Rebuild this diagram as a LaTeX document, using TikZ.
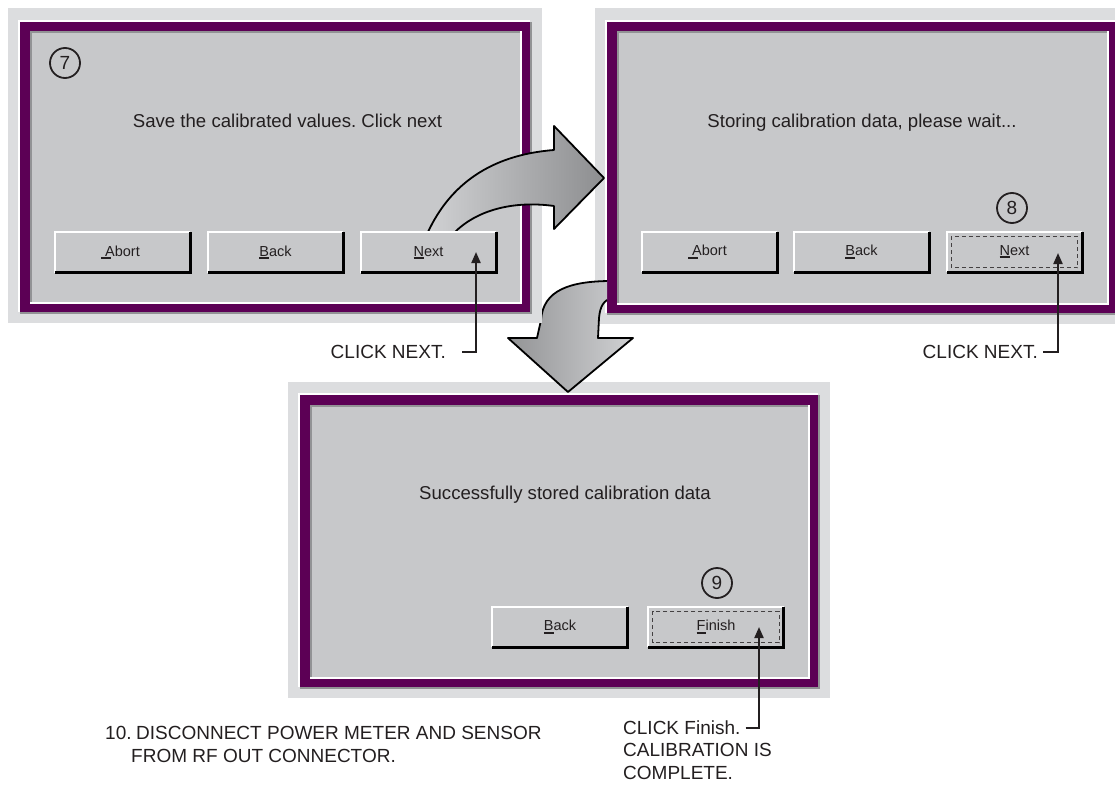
\documentclass[tikz,border=0pt]{standalone}
\usepackage{fontspec}
\setmainfont{Liberation Sans}
\usetikzlibrary{arrows.meta}
\frenchspacing

\definecolor{paneledge}{HTML}{DCDDDF}
\definecolor{wingray}{HTML}{C7C8CA}
\definecolor{frameplum}{HTML}{5C0055}
\definecolor{bevel}{HTML}{929395}
\definecolor{ink}{HTML}{231F20}
\definecolor{shadelight}{HTML}{DCDDDF}
\definecolor{shademid}{HTML}{D0D1D3}
\definecolor{shadedark}{HTML}{8D8E90}

% underlined access key; optional shift of the bar
\newcommand{\keyul}[2][0pt]{\setbox0\hbox{#2}\rlap{\hspace{#1}\rule[-2.6pt]{\wd0}{1.8pt}}#2}

% window frame: #1,#2 = top-left, #3,#4 = bottom-right of the plum border
\newcommand{\dlgframe}[4]{%
  \fill[paneledge] ({#1-12.5},{#2-13.5}) rectangle ({#3+12},{#4+11});
  \fill[white] ({#1-2},{#2-2}) rectangle (#3,#4);
  \fill[bevel] (#1,#2) rectangle ({#3+1.5},{#4+1.5});
  \fill[frameplum] (#1,#2) rectangle (#3,#4);
  \fill[white] ({#1+9.5},{#2+9.5}) rectangle ({#3-8},{#4-8});
  \fill[bevel] ({#1+9.5},{#2+9.5}) rectangle ({#3-10},{#4-10});
  \fill[wingray] ({#1+11.5},{#2+11.5}) rectangle ({#3-10},{#4-10});
}

% push button: name, centre x, centre y, label
\newcommand{\winbtn}[4]{%
  \node[winbtn] (#1) at (#2,#3) {#4};
  \draw[white, line width=2pt] (#1.south west) -- (#1.north west) -- (#1.north east);
  \draw[black, line width=2.6pt] (#1.south west) -- (#1.south east) -- (#1.north east);
}
\newcommand{\focusrect}[1]{%
  \draw[ink!85, line width=1pt, dash pattern=on 4pt off 3pt]
    ([shift={(4.5,4.5)}]#1.north west) rectangle ([shift={(-4.5,-4.5)}]#1.south east);
}

\begin{document}
\begin{tikzpicture}[x=1pt, y=-1pt,
  winbtn/.style={minimum width=135pt, minimum height=40pt, inner sep=0pt,
    fill=wingray, text=ink, font=\fontsize{14.5}{16}\selectfont},
  message/.style={text=ink, inner sep=0pt, anchor=base, font=\fontsize{18.6}{22}\selectfont},
  stepnum/.style={circle, draw=ink, line width=1.8pt, minimum size=30pt,
    inner sep=0pt, text=ink, font=\fontsize{19}{20}\selectfont},
  note/.style={text=ink, inner sep=0pt, font=\fontsize{19}{23}\selectfont},
  pointer/.style={draw=ink, line width=2pt, -{Triangle[length=11pt,width=9pt]}},
  blockarrow/.style={draw=black, line width=1.8pt, line join=round}]

\clip (0,0) rectangle (1115,786);
\fill[white] (0,0) rectangle (1115,786);

% ---- second window: storing ----
\dlgframe{607}{22}{1117}{313}
\node[message] (msgB) at (862,128) {Storing calibration data, please wait...};
\node[stepnum] (numB) at (1012,208) {8};
\winbtn{abortB}{709.5}{252}{\keyul[-4pt]{A}bort}
\winbtn{backB}{861.5}{252}{\keyul{B}ack}
\winbtn{nextB}{1014.5}{252}{\keyul{N}ext}
\focusrect{nextB}

% ---- third window: stored ----
\dlgframe{300}{395}{818}{687}
\node[message] (msgC) at (565,499) {Successfully stored calibration data};
\node[stepnum] (numC) at (717,583) {9};
\winbtn{backC}{560}{627}{\keyul{B}ack}
\winbtn{finishC}{716}{627}{\keyul{F}inish}
\focusrect{finishC}

% ---- downward block arrow, emerging from behind the frames ----
\begin{scope}
  \clip (0,0) -- (607,0) -- (607,313) -- (1115,313) -- (1115,786) -- (0,786) -- cycle;
  \shadedraw[blockarrow, left color=shadedark!95, middle color=shademid, right color=shadelight!85!shadedark]
    (612,281) .. controls (570,281) and (543,290) .. (541,320) -- (537,338)
    -- (508,338) -- (568,392) -- (633,338) -- (598,338) -- (599,318)
    .. controls (600,306) and (604,300) .. (612,298) -- cycle;
\end{scope}

% ---- first window: save ----
\dlgframe{20}{22}{530}{312}
\node[message] (msgA) at (287.5,128) {Save the calibrated values. Click next};
\node[stepnum] (numA) at (65,63) {7};

% curved block arrow towards the second window
\shadedraw[blockarrow, left color=shademid, middle color=shadelight, right color=shadedark]
  (428,232) .. controls (450,185) and (490,155) .. (554,150) -- (554,126)
  -- (604,178) -- (554,229) -- (554,206)
  .. controls (510,200) and (475,212) .. (455,232) -- cycle;

\winbtn{abortA}{122.5}{252.5}{\keyul[-4pt]{A}bort}
\winbtn{backA}{275.5}{252.5}{\keyul{B}ack}
\winbtn{nextA}{428.5}{252.5}{\keyul{N}ext}

% ---- call-outs ----
\coordinate (tipA) at (476,252);
\coordinate (tipB) at (1058,253);
\coordinate (tipC) at (759,627);

\node[note, anchor=east] (clickA) at (446,351.5) {CLICK NEXT.};
\node[note, anchor=east] (clickB) at (1038,351.5) {CLICK NEXT.};
\node[note, anchor=west] (clickC) at (623,727.5) {CLICK Finish.};
\node[note, anchor=north west, align=left] (doneC) at (623,743)
  {CALIBRATION IS\\COMPLETE.};

\draw[pointer] ([xshift=16pt]clickA.east) -| (tipA);
\draw[pointer] ([xshift=5pt]clickB.east) -| (tipB);
\draw[pointer] ([xshift=5pt]clickC.east) -| (tipC);

\node[note, anchor=north west, align=left] (stepTen) at (105,726.5)
  {\makebox[31pt][l]{10.}DISCONNECT POWER METER AND SENSOR\\
   \hspace*{26pt}FROM RF OUT CONNECTOR.};

\end{tikzpicture}
\end{document}
